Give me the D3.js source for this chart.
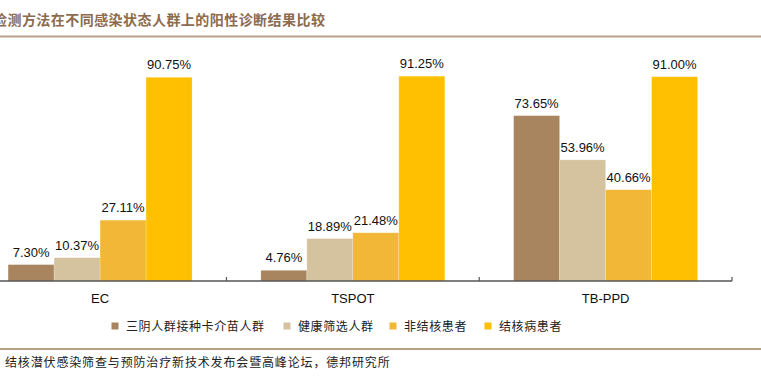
<!DOCTYPE html>
<html><head><meta charset="utf-8">
<script src="https://cdn.jsdelivr.net/npm/d3@7/dist/d3.min.js"></script>
<style>
html,body{margin:0;padding:0;background:#fff;}
svg{display:block;}
</style></head>
<body><svg id="c" width="761" height="382"></svg>
<script>
const title = "检测方法在不同感染状态人群上的阳性诊断结果比较";
const source = "结核潜伏感染筛查与预防治疗新技术发布会暨高峰论坛，德邦研究所";
const categories = ["EC", "TSPOT", "TB-PPD"];
const seriesNames = ["三阴人群接种卡介苗人群", "健康筛选人群", "非结核患者", "结核病患者"];
const sanyin = [7.30, 4.76, 73.65];
const jiankang = [10.37, 18.89, 53.96];
const feijiehe = [27.11, 21.48, 40.66];
const jiehebing = [90.75, 91.25, 91.00];
const seriesValues = [sanyin, jiankang, feijiehe, jiehebing];
const colors = ["#A8855E", "#D4C39E", "#F2B737", "#FEC000"];

const svg = d3.select("#c");
const cjk = "'Noto Sans CJK SC', sans-serif";
const latin = "'Liberation Sans', Arial, sans-serif";

// title
svg.append("text").attr("x", -7).attr("y", 25)
  .attr("font-family", cjk).attr("font-size", 14).attr("font-weight", 700)
  .attr("letter-spacing", 0.45).attr("fill", "#8C6B4E").text(title);
svg.append("line").attr("x1", 0).attr("x2", 761).attr("y1", 36.5).attr("y2", 36.5)
  .attr("stroke", "#B9A189").attr("stroke-width", 2);

const x0 = d3.scaleBand().domain(categories).range([-26.3, 732]).padding(0);
const step = x0.step();
const x1 = d3.scaleBand().domain(seriesNames).range([34.4, step - 34.4]).padding(0);
const y = d3.scaleLinear().domain([0, 100]).range([281, 56.5]);

const data = [];
categories.forEach((c, i) => seriesNames.forEach((s, j) => data.push({c, s, j, v: seriesValues[j][i]})));

const g = svg.append("g");
g.selectAll("rect.bar").data(data).join("rect").attr("class", "bar")
  .attr("x", d => x0(d.c) + x1(d.s)).attr("width", x1.bandwidth())
  .attr("y", d => y(d.v)).attr("height", d => y(0) - y(d.v))
  .attr("fill", d => colors[d.j])
  .attr("stroke", "rgba(255,255,255,0.35)").attr("stroke-width", 0.6);

g.selectAll("text.lbl").data(data).join("text").attr("class", "lbl")
  .attr("x", d => x0(d.c) + x1(d.s) + x1.bandwidth() / 2)
  .attr("y", d => y(d.v) - 8)
  .attr("text-anchor", "middle").attr("font-family", latin).attr("font-size", 13)
  .attr("fill", "#111").text(d => d.v.toFixed(2) + "%");

// axis
g.append("line").attr("x1", 0).attr("x2", 732).attr("y1", y(0)).attr("y2", y(0))
  .attr("stroke", "#555").attr("stroke-width", 1.5);
g.selectAll("line.tick").data(categories).join("line").attr("class", "tick")
  .attr("x1", d => x0(d) + step).attr("x2", d => x0(d) + step)
  .attr("y1", y(0)).attr("y2", y(0) - 4).attr("stroke", "#555").attr("stroke-width", 1.2);
g.selectAll("text.cat").data(categories).join("text").attr("class", "cat")
  .attr("x", d => x0(d) + step / 2).attr("y", 303)
  .attr("text-anchor", "middle").attr("font-family", latin).attr("font-size", 13)
  .attr("fill", "#111").text(d => d);

// legend
const legendX = [115, 287, 393, 488];
const lg = svg.append("g");
seriesNames.forEach((s, j) => {
  lg.append("rect").attr("x", legendX[j] - 3.5).attr("y", 322.5).attr("width", 7).attr("height", 7)
    .attr("fill", colors[j]);
  lg.append("text").attr("x", legendX[j] + 11).attr("y", 331)
    .attr("font-family", cjk).attr("font-size", 12).attr("letter-spacing", 0.6)
    .attr("fill", "#222").text(s);
});

svg.append("line").attr("x1", 0).attr("x2", 761).attr("y1", 349).attr("y2", 349)
  .attr("stroke", "#B9A189").attr("stroke-width", 2);
svg.append("text").attr("x", 5).attr("y", 367)
  .attr("font-family", cjk).attr("font-size", 12).attr("letter-spacing", 0.85)
  .attr("fill", "#222").text(source);
</script></body></html>
